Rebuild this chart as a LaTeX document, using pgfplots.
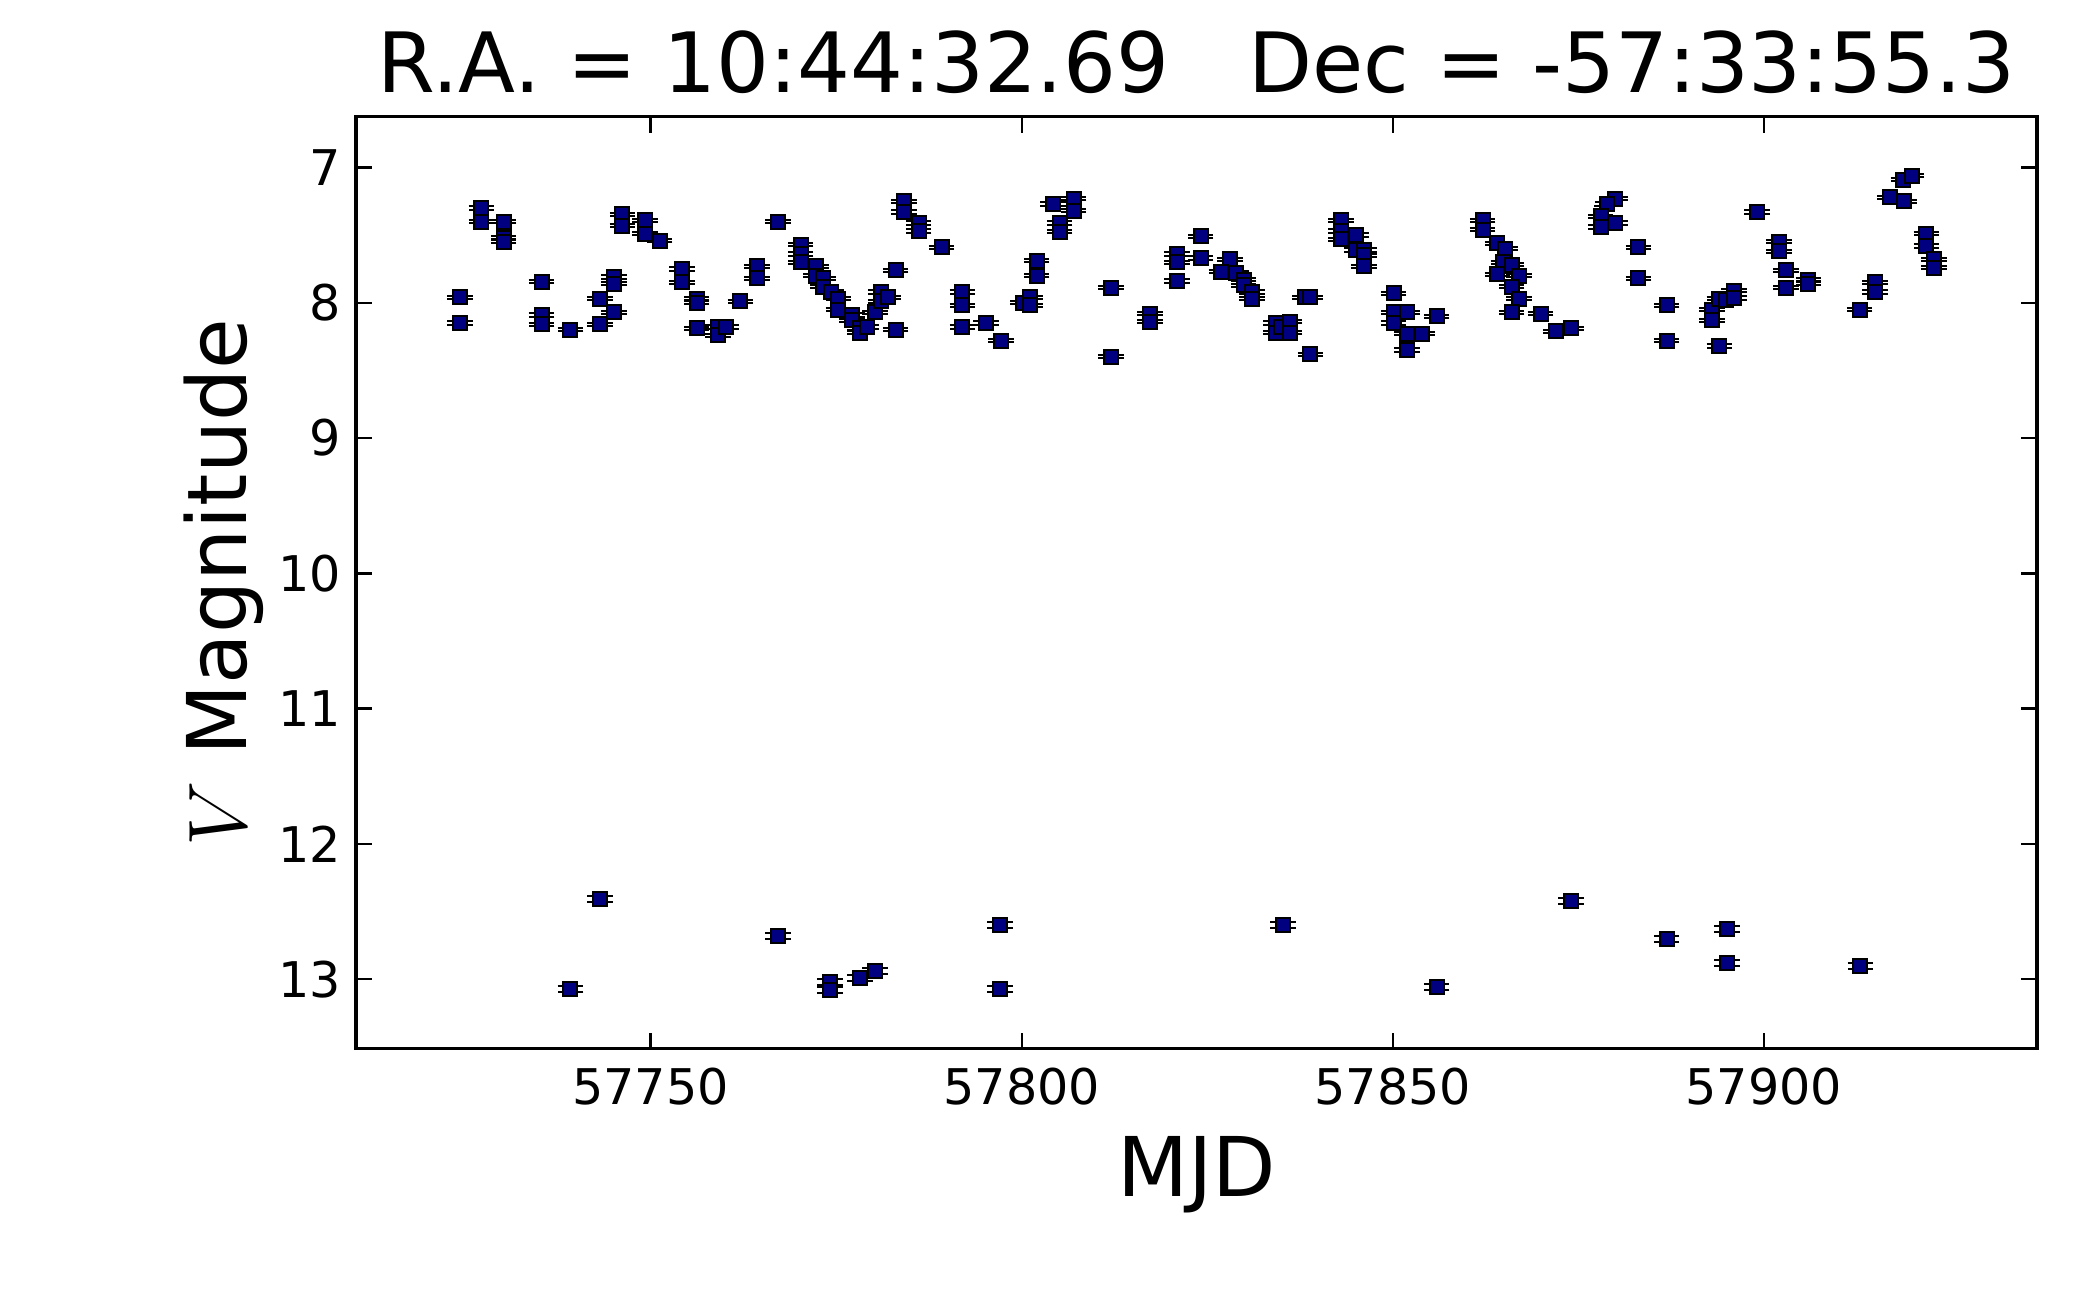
\documentclass[border=0pt]{standalone}
\usepackage{fontspec}
\setmainfont{DejaVu Sans}
\usepackage{pgfplots}
\pgfplotsset{compat=1.18}
\definecolor{navyfill}{RGB}{0,0,128}
\begin{document}
\begin{tikzpicture}
\path[use as bounding box] (-89pt,-62.1pt) rectangle (436pt,262.2pt);
\begin{axis}[
  at={(0pt,0pt)}, anchor=south west,
  width=420.25pt, height=233.05pt, scale only axis,
  xmin=57710.3, xmax=57936.8,
  ymin=6.624, ymax=13.515,
  y dir=reverse,
  xtick={57750,57800,57850,57900},
  ytick={7,8,9,10,11,12,13},
  scaled x ticks=false, scaled y ticks=false,
  /pgf/number format/fixed,
  /pgf/number format/precision=0,
  /pgf/number format/assume math mode=true,
  /pgf/number format/1000 sep={},
  minor tick num=0,
  tick pos=both, tick align=inside,
  major tick length=4pt,
  every tick/.style={black, line width=0.6pt},
  axis line style={line width=0.8pt},
  ticklabel style={font=\fontsize{12.3}{12.3}\selectfont, inner sep=0pt},
  xticklabel style={yshift=-4.6pt},
  yticklabel style={xshift=-3.5pt},
  title={R.A. = 10:44:32.69\ \ \ Dec = -57:33:55.3},
  title style={at={(axis description cs:0.5,1)}, anchor=south, inner sep=0pt, yshift=-0.4pt, font=\fontsize{20.8}{20.8}\selectfont},
  xlabel={MJD},
  xlabel style={at={(axis description cs:0.5,-0.0936)}, anchor=north, inner sep=0pt, font=\fontsize{20.6}{20.6}\selectfont},
  ylabel={$V$ Magnitude},
  ylabel style={at={(axis description cs:-0.0543,0.5)}, anchor=south, inner sep=0pt, font=\fontsize{20.6}{20.6}\selectfont},
  clip=false,
]
\pgfplotsset{
  magstyle/.style={only marks, mark=square*, mark size=1.75pt,
    mark options={fill=navyfill, draw=black, line width=0.5pt},
    error bars/.cd, y dir=both, y explicit,
    error bar style={black, line width=0.4pt},
    error mark options={rotate=90, black, line width=0.5pt, mark size=3.2pt}}
}
\addplot[magstyle] table[x=x, y=y, y error=e] {
x y e
57727.2 7.30 0.012
57727.2 7.40 0.012
57730.2 7.40 0.012
57730.2 7.52 0.012
57730.2 7.55 0.012
57724.3 7.96 0.012
57724.3 8.15 0.012
57735.3 7.845 0.012
57735.3 8.09 0.012
57735.3 8.16 0.012
57739.2 8.20 0.012
57746.2 7.345 0.012
57746.2 7.43 0.012
57749.2 7.39 0.012
57749.2 7.49 0.012
57751.2 7.54 0.012
57745.1 7.81 0.012
57745.1 7.86 0.012
57743.2 7.97 0.012
57745.1 8.07 0.012
57743.2 8.16 0.012
57754.2 7.75 0.012
57754.2 7.85 0.012
57756.2 7.97 0.012
57756.2 8.00 0.012
57756.2 8.19 0.012
57759.1 8.18 0.012
57759.1 8.24 0.012
57760.2 8.18 0.012
57762.1 7.99 0.012
57764.3 7.73 0.012
57764.3 7.82 0.012
57767.2 7.40 0.012
57770.2 7.57 0.012
57770.2 7.64 0.012
57770.2 7.70 0.012
57772.25 7.73 0.012
57772.25 7.80 0.012
57773.2 7.82 0.012
57773.2 7.88 0.012
57774.3 7.92 0.012
57775.3 7.97 0.012
57775.3 8.05 0.012
57777.1 8.09 0.012
57777.1 8.13 0.012
57778.2 8.19 0.012
57778.2 8.22 0.012
57779.1 8.18 0.012
57780.2 8.07 0.012
57781.0 7.92 0.012
57781.0 7.99 0.012
57782.0 7.96 0.012
57783.0 7.76 0.012
57783.0 8.20 0.012
57784.1 7.25 0.012
57784.1 7.33 0.012
57786.1 7.41 0.012
57786.1 7.47 0.012
57789.2 7.59 0.012
57792.0 7.92 0.012
57792.0 8.02 0.012
57792.0 8.18 0.012
57795.2 8.15 0.012
57797.2 8.28 0.012
57802.0 7.69 0.012
57802.0 7.80 0.012
57800.2 8.00 0.012
57801.1 7.96 0.012
57801.1 8.02 0.012
57804.2 7.27 0.012
57805.1 7.41 0.012
57805.1 7.475 0.012
57807.0 7.23 0.012
57807.0 7.32 0.012
57812.0 7.89 0.012
57812.0 8.40 0.012
57817.3 8.08 0.012
57817.3 8.14 0.012
57820.9 7.64 0.012
57820.9 7.70 0.012
57820.9 7.84 0.012
57824.1 7.51 0.012
57824.1 7.67 0.012
57828.1 7.68 0.012
57826.9 7.77 0.012
57828.9 7.78 0.012
57829.9 7.83 0.012
57829.9 7.87 0.012
57831.0 7.92 0.012
57831.0 7.97 0.012
57834.3 8.15 0.012
57834.3 8.22 0.012
57835.0 8.18 0.012
57836.1 8.14 0.012
57836.1 8.22 0.012
57838.2 7.96 0.012
57838.9 7.96 0.012
57838.9 8.38 0.012
57843.0 7.39 0.012
57843.0 7.47 0.012
57843.0 7.53 0.012
57845.1 7.50 0.012
57845.1 7.61 0.012
57846.1 7.61 0.012
57846.1 7.65 0.012
57846.1 7.73 0.012
57850.1 7.93 0.012
57850.1 8.07 0.012
57850.1 8.15 0.012
57851.9 8.07 0.012
57851.9 8.23 0.012
57851.9 8.35 0.012
57853.9 8.23 0.012
57855.9 8.10 0.012
57862.1 7.39 0.012
57862.1 7.46 0.012
57864.1 7.56 0.012
57865.1 7.60 0.012
57864.9 7.70 0.012
57866.0 7.72 0.012
57864.1 7.79 0.012
57867.0 7.80 0.012
57866.0 7.88 0.012
57867.0 7.97 0.012
57866.0 8.07 0.012
57869.9 8.08 0.012
57872.0 8.21 0.012
57874.0 8.19 0.012
57879.9 7.23 0.012
57878.9 7.27 0.012
57878.0 7.36 0.012
57878.0 7.44 0.012
57879.9 7.41 0.012
57883.1 7.59 0.012
57883.1 7.82 0.012
57886.9 8.02 0.012
57886.9 8.28 0.012
57893.0 8.05 0.012
57893.0 8.13 0.012
57894.0 7.97 0.012
57894.9 7.98 0.012
57896.0 7.91 0.012
57896.0 7.965 0.012
57894.0 8.32 0.012
57899.1 7.33 0.012
57902.0 7.55 0.012
57902.0 7.62 0.012
57903.0 7.76 0.012
57903.0 7.89 0.012
57906.0 7.83 0.012
57906.0 7.86 0.012
57912.9 8.05 0.012
57915.0 7.85 0.012
57915.0 7.92 0.012
57917.0 7.22 0.012
57918.9 7.25 0.012
57918.8 7.09 0.012
57919.9 7.06 0.012
57921.9 7.49 0.012
57921.9 7.58 0.012
57922.9 7.68 0.012
57922.9 7.74 0.012
};
\addplot[magstyle] table[x=x, y=y, y error=e] {
x y e
57739.2 13.07 0.022
57743.2 12.41 0.022
57767.2 12.68 0.022
57774.2 13.02 0.022
57774.2 13.08 0.022
57778.2 12.99 0.022
57780.2 12.94 0.022
57797.1 12.60 0.022
57797.1 13.07 0.022
57835.2 12.60 0.022
57855.9 13.06 0.022
57874.0 12.42 0.022
57886.9 12.70 0.022
57895.05 12.63 0.022
57895.05 12.88 0.022
57913.0 12.90 0.022
};
\end{axis}
\end{tikzpicture}
\end{document}
